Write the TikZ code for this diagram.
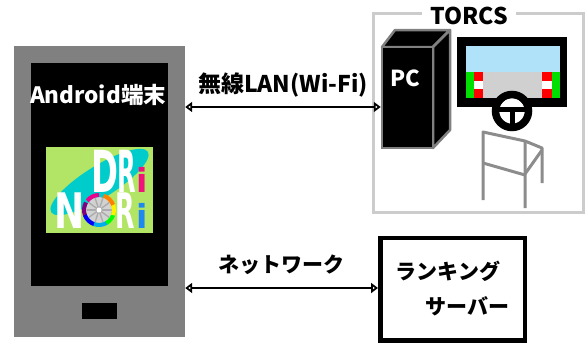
\documentclass[tikz,border=0pt]{standalone}
\usepackage{fontspec}
\setmainfont{Noto Sans CJK JP}
\newfontfamily\logofont{DejaVu Sans}
\usetikzlibrary{arrows.meta}
\usetikzlibrary{positioning}

\definecolor{frameGray}{HTML}{CCCCCC}
\definecolor{caseGray}{HTML}{808080}
\definecolor{chairGray}{HTML}{8C8C8C}
\definecolor{skyBlue}{HTML}{B0E2FA}
\definecolor{roadGray}{HTML}{D0D0D0}
\definecolor{grassGreen}{HTML}{00E000}
\definecolor{logoGreen}{HTML}{B2E566}
\definecolor{logoCyan}{HTML}{00CCCC}
\definecolor{logoPink}{HTML}{F0147A}
\definecolor{logoBlue}{HTML}{1E88F0}

\begin{document}
\begin{tikzpicture}[x=1pt, y=-1pt, >={Triangle[open,length=7pt,width=10pt]}]
    % Styles
    \tikzset{
        caption/.style={
                font=\bfseries\fontsize{21}{24}\selectfont,
                inner sep=0pt
            }
    }
    \tikzset{
        plainBox/.style={
                rectangle,
                inner sep=0pt
            }
    }
    \tikzset{
        serverNode/.style={
                draw,
                rectangle,
                line width=4.5pt,
                minimum width=144.5pt,
                minimum height=102.5pt
            }
    }
    \tikzset{
        logoLetter/.style={
                text=white,
                inner sep=0pt,
                anchor=base west
            }
    }
    \tikzset{
        link/.style={
                <->,
                line width=2.5pt
            }
    }
    \useasboundingbox (0,0) rectangle (588,348);
    % Android phone
    \node[plainBox, fill=caseGray, minimum width=171pt, minimum height=291pt](phone) at (99.5,191.5){};
    \node[plainBox, fill=black, minimum width=137pt, minimum height=223pt](screen) at (99.5,174.5){};
    \node[plainBox, fill=black, minimum width=35pt, minimum height=16pt](homeButton) at (99.5,311){};
    \node[caption, text=white, font=\bfseries\fontsize{22.5}{24}\selectfont](android) at (98,95){Android端末};
    % app logo
    \begin{scope}
        \clip (46,147) rectangle (153,233);
        \fill[logoGreen] (46,147) rectangle (153,233);
        \fill[logoCyan, rotate around={32:(99.5,182)}] (99.5,182) ellipse [x radius=57, y radius=16];
    \end{scope}
    \node[logoLetter, font=\logofont\bfseries\fontsize{58}{58}\selectfont, xscale=0.56](letterD) at (91,192){D};
    \node[logoLetter, font=\logofont\bfseries\fontsize{58}{58}\selectfont, xscale=0.415](letterR) at (117,192){R};
    \node[logoLetter, font=\logofont\bfseries\fontsize{33}{33}\selectfont, text=logoPink](letterI) at (136,192){i};
    \node[logoLetter, font=\logofont\bfseries\fontsize{49}{49}\selectfont, xscale=0.735](letterN) at (54,228){N};
    \node[logoLetter, font=\logofont\bfseries\fontsize{49}{49}\selectfont, xscale=0.515](letterR2) at (115,228){R};
    \node[logoLetter, font=\logofont\bfseries\fontsize{33}{33}\selectfont, text=logoBlue](letterI2) at (136,228){i};
    \begin{scope}[shift={(99,210)}, y=1pt]
        \fill[gray!35] (0,0) circle (13);
        \foreach \a in {0,36,...,324}
            \draw[gray!65, line width=1.4pt] (0,0) -- (\a:12.5);
        \fill[white] (0,0) circle (2.5);
        \foreach \s/\c in {90/magenta, 150/violet, 200/blue, 250/cyan, 300/green, 340/yellow, 380/orange}
            \draw[\c, line width=4pt] (\s:15) arc[start angle=\s, end angle=\s+52, radius=15];
    \end{scope}
    % TORCS setup
    \node[plainBox, draw=frameGray, line width=3pt, minimum width=210pt, minimum height=199pt](torcsFrame) at (478.5,112.5){};
    \node[caption, fill=white, inner xsep=8pt, inner ysep=2pt, font=\bfseries\fontsize{23}{24}\selectfont](torcs) at (469,16){TORCS};
    % PC tower
    \fill[black, draw=caseGray, line width=2.5pt, line join=round] (433,47) -- (382,47) -- (395,30) -- (450,30) -- cycle;
    \fill[black, draw=caseGray, line width=2.5pt, line join=round] (433,47) -- (450,30) -- (450,130) -- (433,148) -- cycle;
    \node[plainBox, fill=black, draw=caseGray, line width=2.5pt, minimum width=51pt, minimum height=101pt](pc) at (407.5,97.5){};
    \node[caption, text=white, font=\bfseries\fontsize{22}{24}\selectfont](pcLabel) at (405,78){PC};
    % monitor
    \fill[black] (457,37) rectangle (567,107);
    \fill[skyBlue] (466,46) rectangle (560,72);
    \fill[roadGray] (466,72) rectangle (560,98);
    \fill[grassGreen] (466,72) rectangle (474,98);
    \fill[grassGreen] (552,72) rectangle (560,98);
    \fill[red] (474,72) rectangle (483,98);
    \fill[red] (542,72) rectangle (552,98);
    \fill[white] (474,81) rectangle (483,89);
    \fill[white] (542,81) rectangle (552,89);
    % steering wheel
    \fill[white] (512,111) circle (13);
    \draw[line width=7.5pt] (512,111) circle (16.5);
    \fill[black] (499,106.5) rectangle (525,111.5);
    \fill[black] (509.5,110) rectangle (514.5,127);
    % chair
    \draw[chairGray, line width=3pt, line join=round] (483,200) -- (483,132) -- (525,141) -- (525,208);
    \draw[chairGray, line width=3pt] (483,163) -- (525,175);
    \draw[chairGray, line width=3pt, line join=round] (525,141) -- (542,148) -- (542,183);
    \draw[chairGray, line width=3pt] (542,150) -- (525,174);
    % ranking server
    \node[serverNode, align=left, font=\bfseries\fontsize{21}{35}\selectfont](server) at (452.5,289){ランキング\\\hspace*{1.4em}サーバー};
    % Draw arrows
    \draw[link]([yshift=84.5pt]phone.east) -- ([yshift=84.5pt]phone.east -| pc.west) node[midway, above=9pt, caption, font=\bfseries\fontsize{23}{24}\selectfont]{無線LAN(Wi-Fi)};
    \draw[link]([yshift=-96.5pt]phone.east) -- ([yshift=-96.5pt]phone.east -| server.west) node[midway, above=12pt, caption]{ネットワーク};
\end{tikzpicture}
\end{document}
